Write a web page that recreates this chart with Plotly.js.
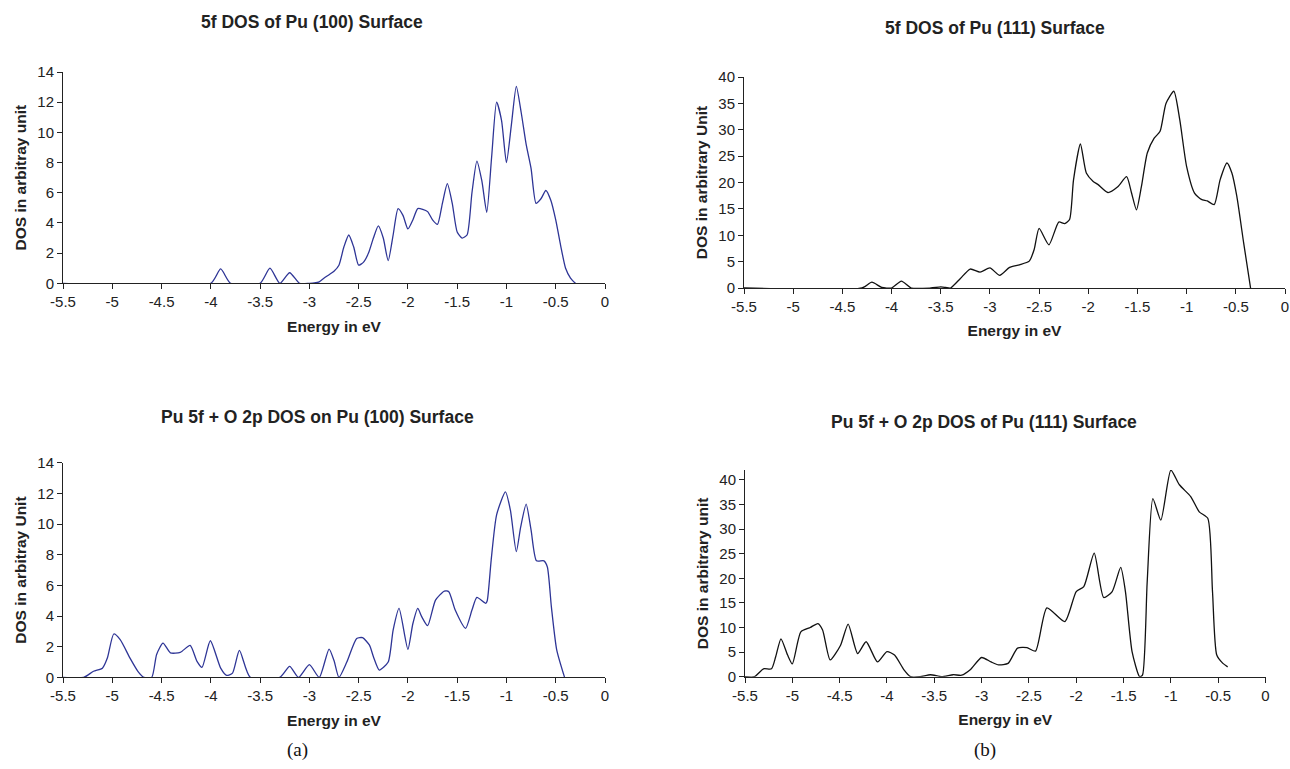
<!DOCTYPE html>
<html><head><meta charset="utf-8">
<script src="https://cdn.plot.ly/plotly-3.0.1.min.js"></script>
<style>html,body{margin:0;padding:0;background:#fff}#chart{width:1290px;height:769px}</style>
</head><body><div id="chart"></div>
<script>
// ---- Data (energies in eV, DOS in arbitrary units) ----
const aEnergy = [-5.5,-4.0,-3.9,-3.8,-3.5,-3.4,-3.3,-3.2,-3.1,-3.0,-2.95,-2.9,-2.85,-2.8,-2.75,-2.7,-2.65,-2.6,-2.55,-2.5,-2.45,-2.4,-2.35,-2.3,-2.25,-2.2,-2.15,-2.1,-2.05,-2.0,-1.95,-1.9,-1.85,-1.8,-1.75,-1.7,-1.65,-1.6,-1.55,-1.5,-1.45,-1.4,-1.35,-1.3,-1.25,-1.2,-1.15,-1.1,-1.05,-1.0,-0.95,-0.9,-0.85,-0.8,-0.75,-0.7,-0.65,-0.6,-0.55,-0.5,-0.45,-0.4,-0.35,-0.3];
const aDOS    = [0,0,0.95,0,0,1.0,0,0.7,0,0,0.02,0.1,0.35,0.57,0.8,1.2,2.4,3.2,2.4,1.2,1.4,2.0,3.0,3.8,3.0,1.5,3.2,4.95,4.5,3.6,4.2,4.95,4.9,4.75,4.2,3.9,5.3,6.6,5.3,3.4,3.0,3.2,6.0,8.1,6.8,4.7,8.4,12.0,10.8,8.0,10.5,13.05,11.3,9.2,7.6,5.3,5.6,6.15,5.5,4.2,2.5,1.0,0.35,0];

const bEnergy = [-5.5,-4.3,-4.2,-4.1,-4.0,-3.9,-3.8,-3.6,-3.5,-3.45,-3.4,-3.3,-3.2,-3.1,-3.0,-2.9,-2.8,-2.7,-2.6,-2.55,-2.5,-2.4,-2.3,-2.24,-2.19,-2.15,-2.08,-2.02,-1.95,-1.9,-1.8,-1.7,-1.61,-1.56,-1.51,-1.46,-1.4,-1.33,-1.27,-1.21,-1.13,-1.07,-1.0,-0.92,-0.85,-0.79,-0.72,-0.66,-0.59,-0.54,-0.49,-0.42,-0.35];
const bDOS    = [0,0,1.1,0.1,0,1.3,0,0,0.2,0.1,0,1.8,3.6,3.0,3.8,2.4,3.9,4.4,5.1,7.3,11.3,8.2,12.5,12.2,13.0,20.5,27.3,21.8,20.2,19.6,18.1,19.2,21.1,18.0,14.8,19.2,25.6,28.4,29.7,35.0,37.3,31.9,23.0,18.0,16.8,16.5,15.8,20.5,23.7,21.8,17.4,8.5,0];

const cEnergy = [-5.5,-5.29,-5.19,-5.1,-5.05,-4.985,-4.92,-4.82,-4.74,-4.68,-4.6,-4.55,-4.485,-4.41,-4.31,-4.21,-4.14,-4.09,-4.005,-3.9,-3.84,-3.78,-3.71,-3.6,-3.3,-3.2,-3.11,-3.0,-2.9,-2.8,-2.75,-2.7,-2.62,-2.52,-2.46,-2.39,-2.35,-2.29,-2.2,-2.15,-2.09,-2.0,-1.95,-1.9,-1.86,-1.8,-1.72,-1.63,-1.585,-1.52,-1.415,-1.35,-1.3,-1.21,-1.195,-1.155,-1.1,-1.01,-0.96,-0.9,-0.856,-0.8,-0.75,-0.695,-0.62,-0.585,-0.544,-0.49,-0.41];
const cDOS    = [0,0,0.4,0.6,1.26,2.83,2.46,1.26,0.4,0,0,1.5,2.24,1.6,1.63,2.09,1.04,0.65,2.39,0.6,0.13,0.28,1.76,0,0,0.72,0,0.83,0,1.85,1.1,0,1.0,2.54,2.59,2.1,1.35,0.48,1.0,3.09,4.5,1.83,3.5,4.5,3.96,3.37,5.04,5.63,5.59,4.39,3.2,4.39,5.22,4.83,5.0,7.65,10.6,12.1,10.9,8.2,9.8,11.3,9.6,7.6,7.6,7.2,4.6,1.8,0];

const dEnergy = [-5.5,-5.4,-5.305,-5.22,-5.175,-5.12,-5.05,-5.0,-4.91,-4.81,-4.73,-4.68,-4.6,-4.49,-4.41,-4.31,-4.22,-4.1,-4.0,-3.92,-3.82,-3.75,-3.65,-3.54,-3.42,-3.3,-3.21,-3.12,-3.0,-2.9,-2.82,-2.72,-2.62,-2.52,-2.43,-2.31,-2.12,-2.0,-1.92,-1.81,-1.71,-1.62,-1.53,-1.48,-1.41,-1.33,-1.3,-1.25,-1.19,-1.106,-1.0,-0.91,-0.79,-0.7,-0.61,-0.56,-0.515,-0.45,-0.4];
const dDOS    = [0,0,1.6,1.6,4.1,7.7,4.4,2.6,9.1,10.0,10.8,9.5,3.4,6.4,10.7,4.7,7.1,3.0,5.1,4.4,1.4,0,0,0.4,0,0.4,0.3,1.4,3.9,3.0,2.4,2.7,5.8,5.9,5.2,14.0,11.2,17.3,18.3,25.1,16.1,17.3,22.2,17.3,5.1,0,0.3,19.3,36.2,31.8,42.0,39.0,36.6,33.5,32.2,17.3,4.4,2.7,2.0];

const xTickVals  = [-5.5,-5,-4.5,-4,-3.5,-3,-2.5,-2,-1.5,-1,-0.5,0];
const xTickText  = ["-5.5","-5","-4.5","-4","-3.5","-3","-2.5","-2","-1.5","-1","-0.5","0"];
const titles = ["5f DOS of Pu (100) Surface","5f DOS of Pu (111) Surface","Pu 5f + O 2p DOS on Pu (100) Surface","Pu 5f + O 2p DOS of Pu (111) Surface"];
const yTitles = ["DOS in arbitray unit","DOS in arbitrary Unit","DOS in arbitray Unit","DOS in arbitrary unit"];
const xTitle = "Energy in eV";
const captions = ["(a)","(b)"];

// ---- Figure ----
const W = 1290, H = 769;
const blue = "#2e3596", black = "#111";
function tr(x,y,xa,ya,c){return {x:x,y:y,xaxis:xa,yaxis:ya,type:"scatter",mode:"lines",
  line:{color:c,width:1.3,shape:"spline",smoothing:0.6},hoverinfo:"x+y",showlegend:false};}
const data = [tr(aEnergy,aDOS,"x","y",blue),tr(bEnergy,bDOS,"x2","y2",black),
              tr(cEnergy,cDOS,"x3","y3",blue),tr(dEnergy,dDOS,"x4","y4",black)];

const SANS = "Liberation Sans, Arial, sans-serif";
const tickFont = {family:SANS,size:15,color:"#222"};
const titleFont = {family:SANS,size:15.5,color:"#222"};
function xax(px0,px1,anchor){return {domain:[px0/W,px1/W],range:[-5.5,0],anchor:anchor,
  tickmode:"array",tickvals:xTickVals,ticktext:xTickText,ticks:"outside",ticklen:5,tickcolor:"#222",
  showline:true,linecolor:"#222",linewidth:1,showgrid:false,zeroline:false,tickfont:tickFont,
  title:{text:"<b>"+xTitle+"</b>",font:titleFont,standoff:11},fixedrange:true};}
function yax(py0,py1,max,dt,anchor,txt){return {domain:[1-py1/H,1-py0/H],range:[0,max],anchor:anchor,
  dtick:dt,tick0:0,ticks:"outside",ticklen:5,tickcolor:"#222",showline:true,linecolor:"#222",linewidth:1,
  showgrid:false,zeroline:false,tickfont:tickFont,title:{text:"<b>"+txt+"</b>",font:titleFont,standoff:6},fixedrange:true};}
function ann(txt,px,py,font){return {text:txt,x:px/W,y:1-py/H,xref:"paper",yref:"paper",xanchor:"center",yanchor:"middle",showarrow:false,font:font};}
const mainFont = {family:SANS,size:17.5,color:"#222"};
const capFont = {family:"Liberation Serif, DejaVu Serif, serif",size:19,color:"#111"};

const layout = {width:W,height:H,margin:{l:0,r:0,t:0,b:0},paper_bgcolor:"#fff",plot_bgcolor:"#fff",
  xaxis: xax(63,605,"y"),  yaxis: yax(72,283.3,14,2,"x",yTitles[0]),
  xaxis2:xax(744,1285,"y2"),yaxis2:yax(77,288,40,5,"x2",yTitles[1]),
  xaxis3:xax(63,605,"y3"), yaxis3:yax(462.7,677.4,14,2,"x3",yTitles[2]),
  xaxis4:xax(745,1265.5,"y4"),yaxis4:yax(470,676.7,42,5,"x4",yTitles[3]),
  annotations:[
    ann("<b>"+titles[0]+"</b>",312,22,mainFont),
    ann("<b>"+titles[1]+"</b>",995,28,mainFont),
    ann("<b>"+titles[2]+"</b>",317,417,mainFont),
    ann("<b>"+titles[3]+"</b>",984,422,mainFont),
    ann(captions[0],297,750,capFont),
    ann(captions[1],985,750,capFont)
  ]};
Plotly.newPlot("chart",data,layout,{displayModeBar:false,staticPlot:true});
</script></body></html>
